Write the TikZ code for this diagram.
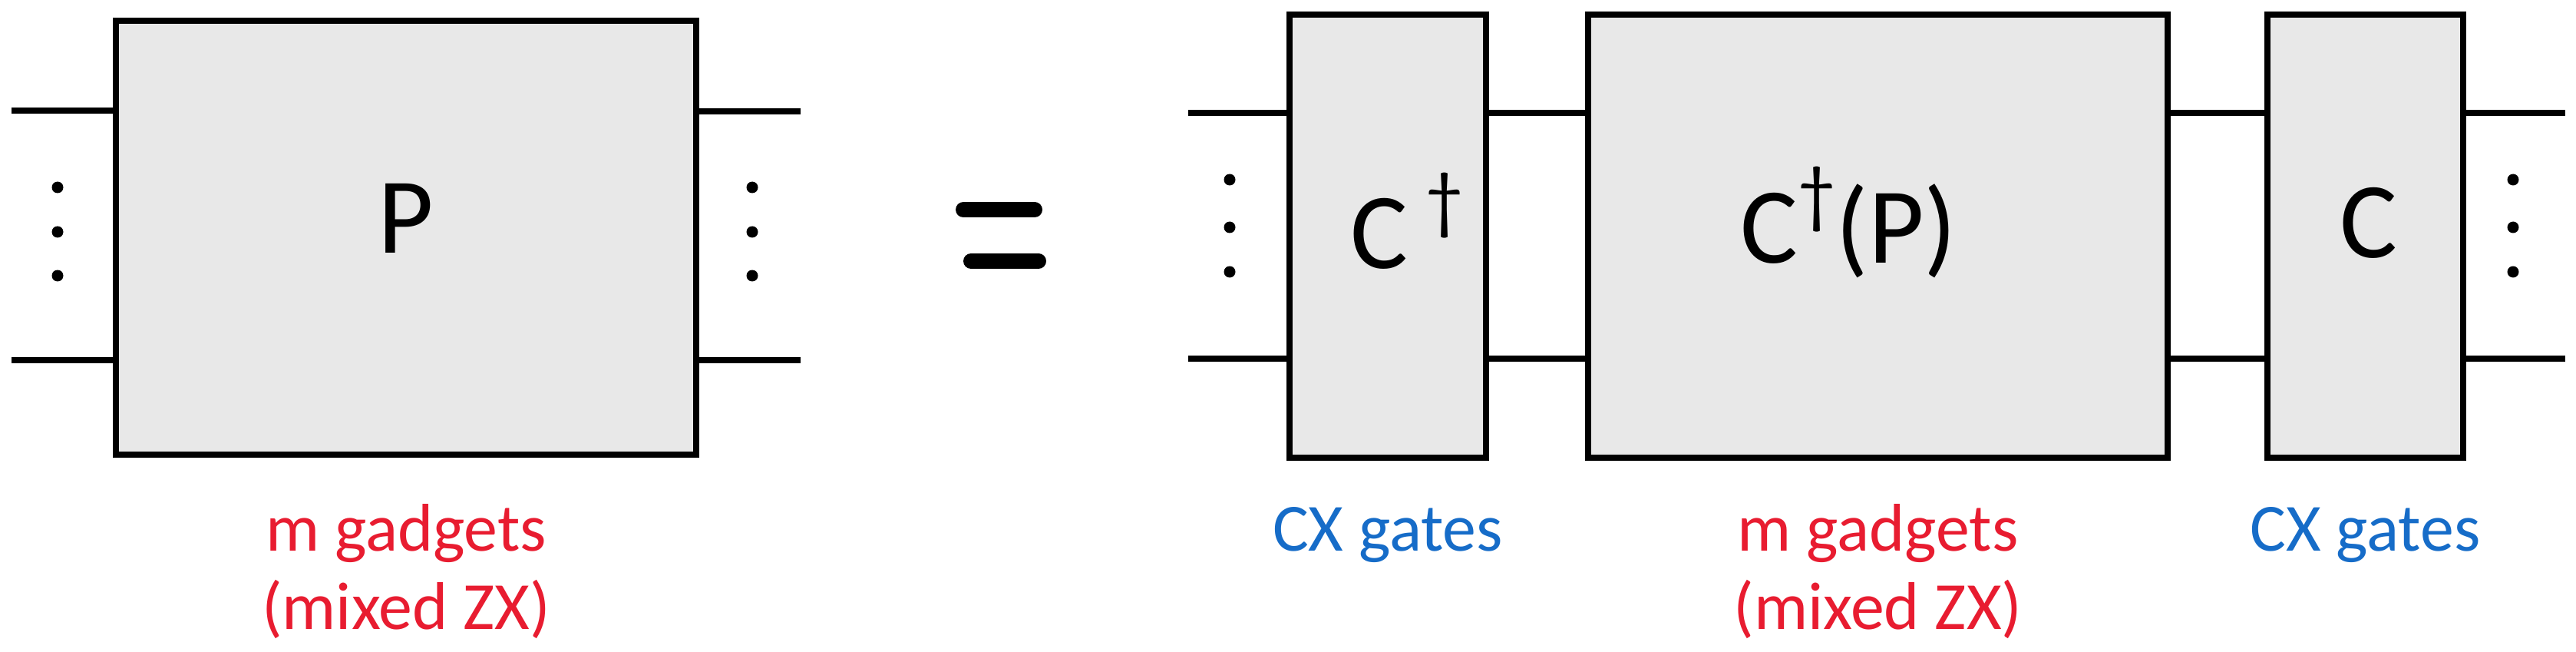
\documentclass[tikz,border=0pt]{standalone}
\usepackage{fontspec}
\setmainfont{Carlito}
\usetikzlibrary{positioning}

\definecolor{gadgetred}{RGB}{232,28,48}
\definecolor{cxblue}{RGB}{22,108,200}
\definecolor{boxgray}{RGB}{232,232,232}

\newcommand{\dg}{\raisebox{0.4em}{\fontsize{28}{28}\selectfont\textdagger}}

\tikzset{
  blk/.style={draw, line width=2.4pt, fill=boxgray, minimum width=7.56cm, minimum height=5.65cm, inner sep=0pt},
  thinblk/.style={blk, minimum width=2.56cm, minimum height=5.77cm},
  wire/.style={line width=2.4pt},
  sym/.style={font=\fontsize{40}{40}\selectfont, inner sep=0pt},
  note/.style={font=\fontsize{25}{29}\selectfont, align=center, inner sep=0pt, outer sep=0pt},
  dot/.style={circle, fill, inner sep=0pt, minimum size=0.15cm},
}

\begin{document}
\begin{tikzpicture}
\useasboundingbox (0,0) rectangle (33.56,8.48);

% left hand side
\node[blk] (P) at (5.29,5.385) {};
\node[sym] (Ptxt) at ([yshift=0.25cm]P.center) {P};
\node[note, text=gadgetred, below=0.5cm of P] (Pnote) {\strut m gadgets\\(mixed ZX)};

\coordinate (pin1) at (0.15,7.04);
\coordinate (pin2) at (0.15,3.79);
\coordinate (pout1) at (10.43,7.03);
\coordinate (pout2) at (10.43,3.79);
\draw[wire]
  (pin1) -- (P.west |- pin1)
  (pin2) -- (P.west |- pin2)
  (P.east |- pout1) -- (pout1)
  (P.east |- pout2) -- (pout2);
\foreach \y [count=\i] in {6.04,5.46,4.89} {
  \node[dot] (pl\i) at (0.75,\y) {};
  \node[dot] (pr\i) at (9.80,\y) {};
}

% equals
\draw[line width=0.2cm, line cap=round] (12.55,5.75) -- (13.48,5.75) (12.65,5.08) -- (13.53,5.08);

% right hand side
\node[thinblk] (ct) at (18.08,5.405) {};
\node[blk, minimum width=7.55cm, minimum height=5.77cm, right=1.245cm of ct] (cp) {};
\node[thinblk, minimum width=2.55cm, right=1.215cm of cp] (c) {};

\node[sym] (cttxt) at ([xshift=0.25cm,yshift=0.2cm]ct.center) {C\,\dg};
\node[sym] (cptxt) at ([xshift=-0.38cm,yshift=0.18cm]cp.center) {C\dg(P)};
\node[sym] (ctxt) at ([xshift=0.05cm,yshift=0.17cm]c.center) {C};

\node[note, text=cxblue, below=0.46cm of ct] (ctnote) {\strut CX gates};
\node[note, text=gadgetred, below=0.46cm of cp] (cpnote) {\strut m gadgets\\(mixed ZX)};
\node[note, text=cxblue, below=0.46cm of c] (cnote) {\strut CX gates};

\coordinate (rin1) at (15.48,7.01);
\coordinate (rin2) at (15.48,3.81);
\coordinate (rout1) at (33.42,7.01);
\coordinate (rout2) at (33.42,3.81);
\draw[wire]
  (rin1) -- (ct.west |- rin1)
  (rin2) -- (ct.west |- rin2)
  (ct.east |- rin1) -- (cp.west |- rin1)
  (ct.east |- rin2) -- (cp.west |- rin2)
  (cp.east |- rin1) -- (c.west |- rin1)
  (cp.east |- rin2) -- (c.west |- rin2)
  (c.east |- rout1) -- (rout1)
  (c.east |- rout2) -- (rout2);
\foreach \y [count=\i] in {6.14,5.52,4.94} {
  \node[dot] (rl\i) at (16.02,\y) {};
  \node[dot] (rr\i) at (32.74,\y) {};
}
\end{tikzpicture}
\end{document}
